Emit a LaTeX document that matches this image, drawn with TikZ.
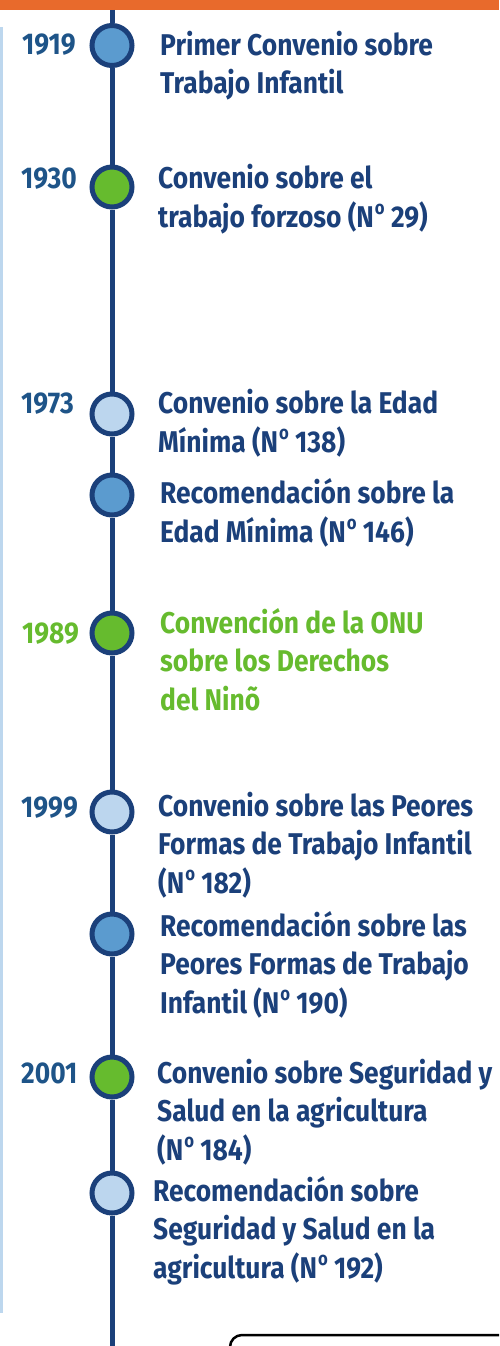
\documentclass[tikz,border=0pt]{standalone}
\usepackage{fontspec}
\setmainfont{Fira Sans}[FakeStretch=0.88]
\definecolor{navy}{RGB}{27,64,122}
\definecolor{yearblue}{RGB}{30,84,136}
\definecolor{midblue}{RGB}{91,155,207}
\definecolor{lightblue}{RGB}{188,214,238}
\definecolor{leafgreen}{RGB}{102,187,46}
\definecolor{topbar}{RGB}{232,106,44}
\definecolor{strip}{RGB}{189,215,238}
\newcommand{\numo}{N\kern1pt\raisebox{0.42em}{\fontsize{19}{19}\selectfont o}}
\begin{document}
\begin{tikzpicture}[x=1pt,y=-1pt,
    dot/.style={draw=navy, line width=5pt, circle, minimum size=40pt, inner sep=0pt},
    year/.style={anchor=base west, inner sep=0pt, text=yearblue, font=\bfseries\fontsize{30}{38.5}\selectfont},
    entry/.style={anchor=base west, inner sep=0pt, align=left, text=navy, font=\bfseries\fontsize{30}{38.5}\selectfont}]
    \useasboundingbox (0,0) rectangle (499,1346);
    \clip (0,0) rectangle (499,1346);
    % frame
    \fill[topbar] (0,0) rectangle (499,10);
    \fill[strip] (0,27) rectangle (3,1313);
    \draw[black, line width=2.5pt, fill=white, rounded corners=12pt] (230,1335) rectangle (540,1420);
    % nodes
    \coordinate (top) at (112,10);
    \coordinate (bottom) at (112,1346);
    \node[dot, fill=midblue] (c1919) at (112,45.5) {};
    \node[dot, fill=leafgreen] (c1930) at (112,187) {};
    \node[dot, fill=lightblue] (c1973) at (112,414) {};
    \node[dot, fill=midblue] (c146) at (112,495) {};
    \node[dot, fill=leafgreen] (c1989) at (112,633) {};
    \node[dot, fill=lightblue] (c1999) at (112,812) {};
    \node[dot, fill=midblue] (c190) at (112,934) {};
    \node[dot, fill=leafgreen] (c2001) at (112,1077) {};
    \node[dot, fill=lightblue] (c192) at (112,1193) {};
    % years
    \node[year] (y1919) at (22,55) {1919};
    \node[year] (y1930) at (21,188) {1930};
    \node[year] (y1973) at (21,413) {1973};
    \node[year, text=leafgreen] (y1989) at (22,643) {1989};
    \node[year] (y1999) at (21,817) {1999};
    \node[year] (y2001) at (21,1083) {2001};
    % texts (placed at the baseline of their last line)
    \node[entry] (e1919) at (160,93.5) {Primer Convenio sobre\\Trabajo Infantil};
    \node[entry] (e1930) at (158,227) {Convenio sobre el\\trabajo forzoso (\numo{} 29)};
    \node[entry] (e1973) at (158,452) {Convenio sobre la Edad\\Mínima (\numo{} 138)};
    \node[entry] (e146) at (160,542) {Recomendación sobre la\\Edad Mínima (\numo{} 146)};
    \node[entry, text=leafgreen] (e1989) at (160,710) {Convención de la ONU\\sobre los Derechos\\del Ninõ};
    \node[entry] (e1999) at (158,893) {Convenio sobre las Peores\\Formas de Trabajo Infantil\\(\numo{} 182)};
    \node[entry] (e190) at (160,1013) {Recomendación sobre las\\Peores Formas de Trabajo\\Infantil (\numo{} 190)};
    \node[entry] (e2001) at (157,1160) {Convenio sobre Seguridad y\\Salud en la agricultura\\(\numo{} 184)};
    \node[entry] (e192) at (153,1278) {Recomendación sobre\\Seguridad y Salud en la\\agricultura (\numo{} 192)};
    % edges
    \draw[navy, line width=5pt] (top) -- (c1919) -- (c1930) -- (c1973) -- (c146) -- (c1989)
        -- (c1999) -- (c190) -- (c2001) -- (c192) -- (bottom);
\end{tikzpicture}
\end{document}
